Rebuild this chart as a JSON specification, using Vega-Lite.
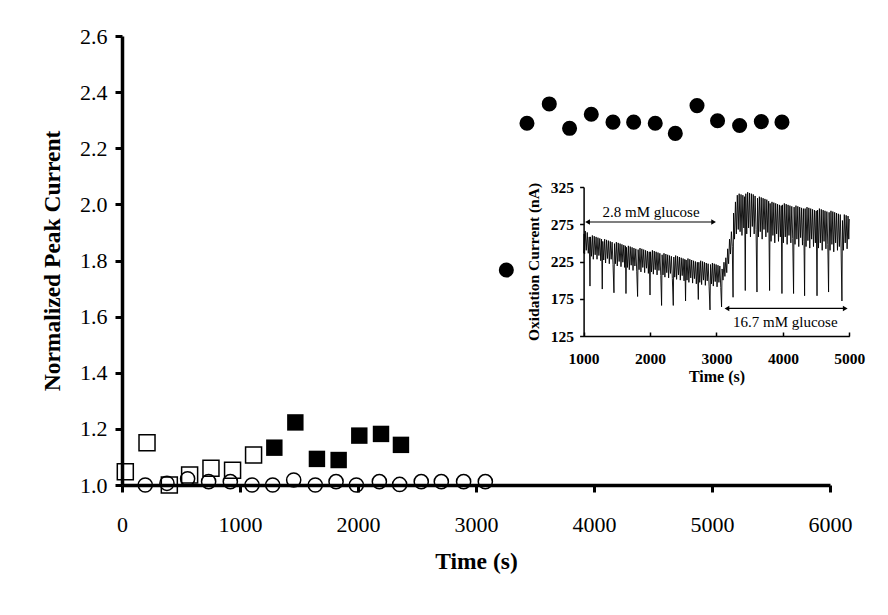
{
  "$schema": "https://vega.github.io/schema/vega-lite/v6.json",
  "width": 708,
  "height": 449,
  "autosize": "none",
  "padding": {"left": 122, "top": 36, "right": 58, "bottom": 130},
  "background": "white",
  "config": {
    "view": {"stroke": null},
    "font": "Liberation Serif",
    "axis": {"grid": false, "domainColor": "black", "tickColor": "black", "labelColor": "black", "titleColor": "black", "labelFont": "Liberation Serif", "titleFont": "Liberation Serif"}
  },
  "datasets": {
    "points": [
      {"s": "os", "t": 28, "v": 1.047},
      {"s": "os", "t": 212, "v": 1.151},
      {"s": "os", "t": 401, "v": 1.0},
      {"s": "os", "t": 573, "v": 1.036},
      {"s": "os", "t": 754, "v": 1.06},
      {"s": "os", "t": 937, "v": 1.053},
      {"s": "os", "t": 1115, "v": 1.107},
      {"s": "fs", "t": 1291, "v": 1.133},
      {"s": "fs", "t": 1469, "v": 1.223},
      {"s": "fs", "t": 1652, "v": 1.093},
      {"s": "fs", "t": 1836, "v": 1.089},
      {"s": "fs", "t": 2011, "v": 1.176},
      {"s": "fs", "t": 2195, "v": 1.182},
      {"s": "fs", "t": 2364, "v": 1.143},
      {"s": "oc", "t": 197, "v": 1.0},
      {"s": "oc", "t": 381, "v": 1.006},
      {"s": "oc", "t": 556, "v": 1.022},
      {"s": "oc", "t": 734, "v": 1.012},
      {"s": "oc", "t": 918, "v": 1.012},
      {"s": "oc", "t": 1102, "v": 1.0},
      {"s": "oc", "t": 1277, "v": 1.0},
      {"s": "oc", "t": 1455, "v": 1.018},
      {"s": "oc", "t": 1638, "v": 1.0},
      {"s": "oc", "t": 1814, "v": 1.012},
      {"s": "oc", "t": 1986, "v": 1.0},
      {"s": "oc", "t": 2181, "v": 1.012},
      {"s": "oc", "t": 2353, "v": 1.002},
      {"s": "oc", "t": 2536, "v": 1.012},
      {"s": "oc", "t": 2706, "v": 1.012},
      {"s": "oc", "t": 2895, "v": 1.012},
      {"s": "oc", "t": 3079, "v": 1.012},
      {"s": "fc", "t": 3257, "v": 1.766},
      {"s": "fc", "t": 3432, "v": 2.289},
      {"s": "fc", "t": 3621, "v": 2.358},
      {"s": "fc", "t": 3793, "v": 2.271},
      {"s": "fc", "t": 3977, "v": 2.321},
      {"s": "fc", "t": 4161, "v": 2.293},
      {"s": "fc", "t": 4336, "v": 2.293},
      {"s": "fc", "t": 4519, "v": 2.289},
      {"s": "fc", "t": 4689, "v": 2.253},
      {"s": "fc", "t": 4873, "v": 2.352},
      {"s": "fc", "t": 5047, "v": 2.298},
      {"s": "fc", "t": 5234, "v": 2.281},
      {"s": "fc", "t": 5418, "v": 2.295},
      {"s": "fc", "t": 5593, "v": 2.293}
    ],
    "trace": [
      {"t":1000,"c":236},{"t":1008,"c":262},{"t":1015,"c":235},{"t":1025,"c":266},{"t":1040,"c":240},{"t":1055,"c":264},{"t":1070,"c":236},{"t":1085,"c":258},{"t":1096,"c":192},
      {"t":1104,"c":258},{"t":1118,"c":232},{"t":1132,"c":260},{"t":1146,"c":228},{"t":1160,"c":259},{"t":1174,"c":234},{"t":1188,"c":258},{"t":1202,"c":228},{"t":1216,"c":257},{"t":1230,"c":233},{"t":1244,"c":256},{"t":1258,"c":226},{"t":1270,"c":255},{"t":1281,"c":188},
      {"t":1289,"c":252},{"t":1303,"c":227},{"t":1317,"c":255},{"t":1331,"c":223},{"t":1345,"c":254},{"t":1359,"c":229},{"t":1373,"c":253},{"t":1387,"c":222},{"t":1401,"c":252},{"t":1415,"c":228},{"t":1429,"c":251},{"t":1443,"c":221},{"t":1457,"c":183},
      {"t":1465,"c":249},{"t":1479,"c":222},{"t":1493,"c":251},{"t":1507,"c":219},{"t":1521,"c":250},{"t":1535,"c":225},{"t":1549,"c":249},{"t":1563,"c":218},{"t":1577,"c":248},{"t":1591,"c":224},{"t":1605,"c":247},{"t":1619,"c":217},{"t":1629,"c":246},{"t":1638,"c":182},
      {"t":1646,"c":244},{"t":1660,"c":217},{"t":1674,"c":246},{"t":1688,"c":214},{"t":1702,"c":245},{"t":1716,"c":220},{"t":1730,"c":244},{"t":1744,"c":213},{"t":1758,"c":243},{"t":1772,"c":219},{"t":1786,"c":242},{"t":1800,"c":212},{"t":1813,"c":178},
      {"t":1821,"c":241},{"t":1835,"c":214},{"t":1849,"c":243},{"t":1863,"c":211},{"t":1877,"c":242},{"t":1891,"c":217},{"t":1905,"c":241},{"t":1919,"c":210},{"t":1933,"c":240},{"t":1947,"c":216},{"t":1961,"c":239},{"t":1975,"c":209},{"t":1988,"c":238},{"t":2000,"c":180},
      {"t":2008,"c":238},{"t":2022,"c":211},{"t":2036,"c":240},{"t":2050,"c":208},{"t":2064,"c":239},{"t":2078,"c":214},{"t":2092,"c":238},{"t":2106,"c":207},{"t":2120,"c":237},{"t":2134,"c":213},{"t":2148,"c":236},{"t":2162,"c":206},{"t":2174,"c":166},
      {"t":2182,"c":234},{"t":2196,"c":207},{"t":2210,"c":236},{"t":2224,"c":204},{"t":2238,"c":235},{"t":2252,"c":210},{"t":2266,"c":234},{"t":2280,"c":203},{"t":2294,"c":233},{"t":2308,"c":209},{"t":2322,"c":232},{"t":2336,"c":202},{"t":2350,"c":166},
      {"t":2358,"c":231},{"t":2372,"c":204},{"t":2386,"c":233},{"t":2400,"c":201},{"t":2414,"c":232},{"t":2428,"c":207},{"t":2442,"c":231},{"t":2456,"c":200},{"t":2470,"c":230},{"t":2484,"c":206},{"t":2498,"c":229},{"t":2512,"c":199},{"t":2524,"c":228},{"t":2535,"c":172},
      {"t":2543,"c":227},{"t":2557,"c":200},{"t":2571,"c":229},{"t":2585,"c":197},{"t":2599,"c":228},{"t":2613,"c":203},{"t":2627,"c":227},{"t":2641,"c":196},{"t":2655,"c":226},{"t":2669,"c":202},{"t":2683,"c":225},{"t":2697,"c":195},{"t":2712,"c":224},{"t":2727,"c":174},
      {"t":2735,"c":224},{"t":2749,"c":197},{"t":2763,"c":226},{"t":2777,"c":194},{"t":2791,"c":225},{"t":2805,"c":200},{"t":2819,"c":224},{"t":2833,"c":193},{"t":2847,"c":223},{"t":2861,"c":199},{"t":2875,"c":222},{"t":2889,"c":192},{"t":2903,"c":160},
      {"t":2911,"c":221},{"t":2925,"c":195},{"t":2939,"c":223},{"t":2953,"c":192},{"t":2967,"c":222},{"t":2981,"c":198},{"t":2995,"c":221},{"t":3009,"c":191},{"t":3023,"c":220},{"t":3037,"c":197},{"t":3051,"c":219},{"t":3065,"c":190},{"t":3077,"c":164},
      {"t":3085,"c":215},{"t":3099,"c":200},{"t":3113,"c":224},{"t":3127,"c":205},{"t":3141,"c":230},{"t":3155,"c":210},{"t":3169,"c":242},{"t":3183,"c":222},{"t":3197,"c":255},{"t":3211,"c":235},{"t":3225,"c":265},{"t":3238,"c":245},{"t":3250,"c":177},
      {"t":3258,"c":290},{"t":3272,"c":255},{"t":3286,"c":305},{"t":3300,"c":262},{"t":3314,"c":314},{"t":3328,"c":268},{"t":3342,"c":316},{"t":3356,"c":265},{"t":3370,"c":315},{"t":3384,"c":260},{"t":3398,"c":314},{"t":3412,"c":270},{"t":3424,"c":312},{"t":3434,"c":186},
      {"t":3442,"c":316},{"t":3456,"c":262},{"t":3470,"c":318},{"t":3484,"c":270},{"t":3498,"c":317},{"t":3512,"c":258},{"t":3526,"c":316},{"t":3540,"c":272},{"t":3554,"c":315},{"t":3568,"c":262},{"t":3582,"c":313},{"t":3596,"c":268},{"t":3610,"c":184},
      {"t":3618,"c":310},{"t":3632,"c":258},{"t":3646,"c":312},{"t":3660,"c":265},{"t":3674,"c":311},{"t":3688,"c":255},{"t":3702,"c":310},{"t":3716,"c":268},{"t":3730,"c":309},{"t":3744,"c":258},{"t":3758,"c":308},{"t":3772,"c":264},{"t":3786,"c":306},{"t":3800,"c":186},
      {"t":3808,"c":303},{"t":3822,"c":252},{"t":3836,"c":305},{"t":3850,"c":260},{"t":3864,"c":304},{"t":3878,"c":250},{"t":3892,"c":303},{"t":3906,"c":262},{"t":3920,"c":302},{"t":3934,"c":252},{"t":3948,"c":301},{"t":3962,"c":258},{"t":3975,"c":300},{"t":3986,"c":182},
      {"t":3994,"c":301},{"t":4008,"c":250},{"t":4022,"c":303},{"t":4036,"c":258},{"t":4050,"c":302},{"t":4064,"c":248},{"t":4078,"c":301},{"t":4092,"c":260},{"t":4106,"c":300},{"t":4120,"c":250},{"t":4134,"c":299},{"t":4148,"c":256},{"t":4161,"c":182},
      {"t":4169,"c":298},{"t":4183,"c":248},{"t":4197,"c":300},{"t":4211,"c":255},{"t":4225,"c":299},{"t":4239,"c":245},{"t":4253,"c":298},{"t":4267,"c":257},{"t":4281,"c":297},{"t":4295,"c":247},{"t":4309,"c":296},{"t":4318,"c":252},{"t":4327,"c":179},
      {"t":4335,"c":296},{"t":4349,"c":245},{"t":4363,"c":298},{"t":4377,"c":253},{"t":4391,"c":297},{"t":4405,"c":243},{"t":4419,"c":296},{"t":4433,"c":255},{"t":4447,"c":295},{"t":4461,"c":245},{"t":4475,"c":294},{"t":4489,"c":250},{"t":4502,"c":293},{"t":4514,"c":179},
      {"t":4522,"c":294},{"t":4536,"c":243},{"t":4550,"c":296},{"t":4564,"c":250},{"t":4578,"c":295},{"t":4592,"c":240},{"t":4606,"c":294},{"t":4620,"c":252},{"t":4634,"c":293},{"t":4648,"c":242},{"t":4662,"c":292},{"t":4676,"c":248},{"t":4688,"c":184},
      {"t":4696,"c":291},{"t":4710,"c":240},{"t":4724,"c":293},{"t":4738,"c":248},{"t":4752,"c":292},{"t":4766,"c":238},{"t":4780,"c":291},{"t":4794,"c":250},{"t":4808,"c":290},{"t":4822,"c":240},{"t":4836,"c":289},{"t":4850,"c":245},{"t":4864,"c":288},{"t":4876,"c":242},{"t":4889,"c":172},
      {"t":4897,"c":280},{"t":4911,"c":240},{"t":4925,"c":288},{"t":4939,"c":250},{"t":4953,"c":287},{"t":4967,"c":242},{"t":4981,"c":286},{"t":4992,"c":255},{"t":5000,"c":282}
    ],
    "arrows": [
      {"t1": 1060, "t2": 2957, "c": 278},
      {"t1": 3158, "t2": 4939, "c": 162}
    ],
    "notes": [
      {"t": 2015, "c": 291, "label": "2.8 mM glucose"},
      {"t": 4036, "c": 144, "label": "16.7 mM glucose"}
    ]
  },
  "layer": [
    {
      "data": {"name": "points"},
      "encoding": {
        "x": {"field": "t", "type": "quantitative", "scale": {"domain": [0, 6000], "nice": false, "zero": false},
          "axis": {"title": "Time (s)", "values": [0, 1000, 2000, 3000, 4000, 5000, 6000], "format": "d", "domainWidth": 3.5, "tickWidth": 3, "tickSize": 7, "labelFontSize": 22, "labelPadding": 22, "labelFlush": false, "labelOverlap": false, "labelBound": false, "titleFontSize": 23.5, "titleFontWeight": "bold", "titlePadding": 14}},
        "y": {"field": "v", "type": "quantitative", "scale": {"domain": [1.0, 2.6], "nice": false, "zero": false},
          "axis": {"title": "Normalized Peak Current", "values": [1.0, 1.2, 1.4, 1.6, 1.8, 2.0, 2.2, 2.4, 2.6], "format": ".1f", "domainWidth": 3.5, "tickWidth": 3, "tickSize": 7, "labelFontSize": 22, "labelPadding": 8, "labelOverlap": false, "labelFlush": false, "titleFontSize": 23.5, "titleFontWeight": "bold", "titlePadding": 15}}
      },
      "layer": [
        {
          "transform": [{"filter": "datum.s == 'oc'"}],
          "mark": {"type": "point", "shape": "circle", "filled": false, "stroke": "black", "strokeWidth": 1.5, "size": 200, "opacity": 1}
        },
        {
          "transform": [{"filter": "datum.s == 'os'"}],
          "mark": {"type": "point", "shape": "square", "filled": false, "stroke": "black", "strokeWidth": 1.5, "size": 256, "opacity": 1}
        },
        {
          "transform": [{"filter": "datum.s == 'fs'"}],
          "mark": {"type": "point", "shape": "square", "filled": true, "fill": "black", "size": 270, "opacity": 1}
        },
        {
          "transform": [{"filter": "datum.s == 'fc'"}],
          "mark": {"type": "point", "shape": "circle", "filled": true, "fill": "black", "size": 227, "opacity": 1}
        }
      ]
    },
    {
      "layer": [
        {
          "data": {"name": "trace"},
          "mark": {"type": "line", "color": "black", "strokeWidth": 0.9},
          "encoding": {
            "x": {"field": "t", "type": "quantitative", "scale": {"domain": [1000, 5000], "range": [461.6, 727.3], "nice": false, "zero": false},
              "axis": {"title": "Time (s)", "orient": "bottom", "offset": -149, "values": [1000, 2000, 3000, 4000, 5000], "format": "d", "domainWidth": 1.5, "tickWidth": 1.5, "tickSize": -4, "labelFontSize": 15.5, "labelFontWeight": "bold", "labelPadding": 19, "labelFlush": false, "labelOverlap": false, "labelBound": false, "titleFontSize": 16, "titleFontWeight": "bold", "titlePadding": 2}},
            "y": {"field": "c", "type": "quantitative", "scale": {"domain": [125, 325], "range": [300, 151], "nice": false, "zero": false},
              "axis": {"title": "Oxidation Current (nA)", "orient": "left", "offset": -461.6, "values": [125, 175, 225, 275, 325], "format": "d", "domainWidth": 1.5, "tickWidth": 1.5, "tickSize": 4, "labelFontSize": 15.5, "labelFontWeight": "bold", "labelPadding": 6, "labelOverlap": false, "labelFlush": false, "titleFontSize": 15.5, "titleFontWeight": "bold", "titlePadding": 9}}
          }
        },
        {
          "data": {"name": "arrows"},
          "mark": {"type": "rule", "color": "black", "strokeWidth": 1.2},
          "encoding": {
            "x": {"field": "t1", "type": "quantitative"},
            "x2": {"field": "t2"},
            "y": {"field": "c", "type": "quantitative"}
          }
        },
        {
          "data": {"name": "arrows"},
          "mark": {"type": "point", "shape": "triangle-left", "filled": true, "fill": "black", "size": 30, "opacity": 1},
          "encoding": {
            "x": {"field": "t1", "type": "quantitative"},
            "y": {"field": "c", "type": "quantitative"}
          }
        },
        {
          "data": {"name": "arrows"},
          "mark": {"type": "point", "shape": "triangle-right", "filled": true, "fill": "black", "size": 30, "opacity": 1},
          "encoding": {
            "x": {"field": "t2", "type": "quantitative"},
            "y": {"field": "c", "type": "quantitative"}
          }
        },
        {
          "data": {"name": "notes"},
          "mark": {"type": "text", "font": "Liberation Serif", "fontSize": 15, "color": "black", "align": "center", "baseline": "middle"},
          "encoding": {
            "x": {"field": "t", "type": "quantitative"},
            "y": {"field": "c", "type": "quantitative"},
            "text": {"field": "label"}
          }
        }
      ]
    }
  ],
  "resolve": {"scale": {"x": "independent", "y": "independent"}}
}
